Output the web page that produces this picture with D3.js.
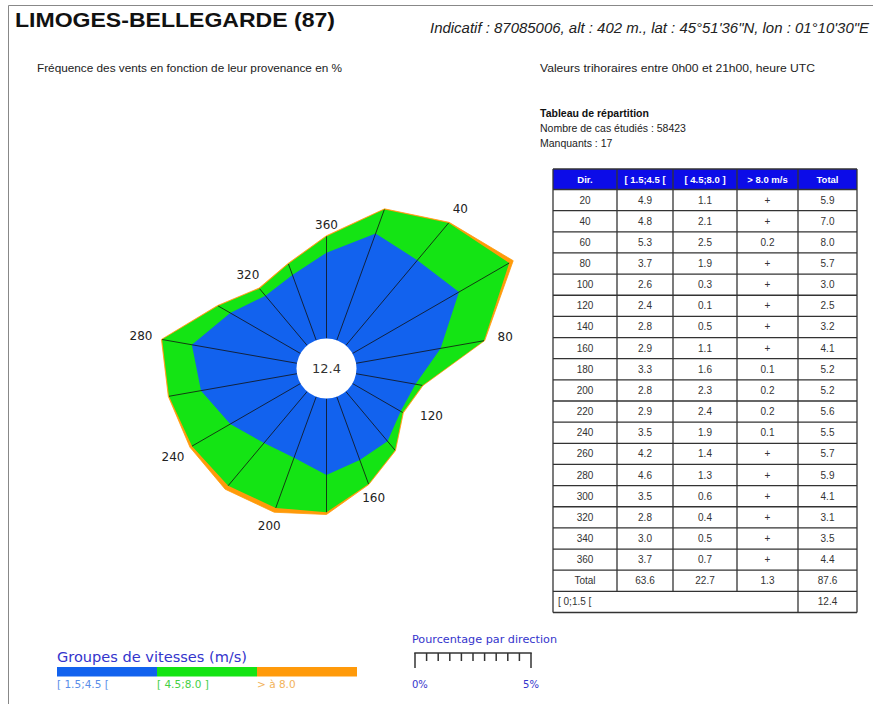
<!DOCTYPE html>
<html><head><meta charset="utf-8">
<script src="https://cdn.jsdelivr.net/npm/d3@7/dist/d3.min.js"></script>
<style>
html,body{margin:0;padding:0;background:#fff;}
svg{display:block;}
</style></head>
<body>
<script>
// ---- data ----
const directions = [20,40,60,80,100,120,140,160,180,200,220,240,260,280,300,320,340,360];
const speedLow  = [4.9,4.8,5.3,3.7,2.6,2.4,2.8,2.9,3.3,2.8,2.9,3.5,4.2,4.6,3.5,2.8,3.0,3.7];
const speedMid  = [1.1,2.1,2.5,1.9,0.3,0.1,0.5,1.1,1.6,2.3,2.4,1.9,1.4,1.3,0.6,0.4,0.5,0.7];
const speedHigh = ["+","+","0.2","+","+","+","+","+","0.1","0.2","0.2","0.1","+","+","+","+","+","+"];
const totals    = [5.9,7.0,8.0,5.7,3.0,2.5,3.2,4.1,5.2,5.2,5.6,5.5,5.7,5.9,4.1,3.1,3.5,4.4];
const plusValue = 0.03; // "+" = trace (< 0.05 %)
const headers = ["Dir.","[ 1.5;4.5 [","[ 4.5;8.0 ]","> 8.0 m/s","Total"];
const totalRow = ["Total","63.6","22.7","1.3","87.6"];
const calmLabel = "[ 0;1.5 [";
const calm = 12.4;
const labelDirs = [40,80,120,160,200,240,280,320,360];
const legendGroups = ["[ 1.5;4.5 [","[ 4.5;8.0 ]","> à 8.0"];
const scaleTicks = [0,0.5,1,1.5,2,2.5,3,3.5,4,4.5,5];

const BLUE = "#1262ee", GREEN = "#14e414", ORANGE = "#ff9a0a";

const W = 873, H = 704;
const svg = d3.select("body").append("svg").attr("width", W).attr("height", H);
const sans = "'Liberation Sans', Arial, sans-serif";
const deja = "'DejaVu Sans', Verdana, sans-serif";

// frame
svg.append("path").attr("d", `M8.5,${H} V5.5 H${W}`).attr("fill","none").attr("stroke","#888").attr("stroke-width",1);

// titles
svg.append("text").attr("x",15).attr("y",27).attr("font-family",sans).attr("font-weight","bold")
  .attr("font-size",20).attr("fill","#111").attr("textLength",320).attr("lengthAdjust","spacingAndGlyphs")
  .text("LIMOGES-BELLEGARDE (87)");
svg.append("text").attr("x",430).attr("y",33).attr("font-family",sans).attr("font-style","italic")
  .attr("font-size",14).attr("fill","#222").attr("textLength",439).attr("lengthAdjust","spacingAndGlyphs")
  .text("Indicatif : 87085006, alt : 402 m., lat : 45°51'36\"N, lon : 01°10'30\"E");
svg.append("text").attr("x",37).attr("y",72).attr("font-family",sans).attr("font-size",10)
  .attr("fill","#222").attr("textLength",305).attr("lengthAdjust","spacingAndGlyphs")
  .text("Fréquence des vents en fonction de leur provenance en %");
svg.append("text").attr("x",540).attr("y",72).attr("font-family",sans).attr("font-size",10)
  .attr("fill","#222").attr("textLength",275).attr("lengthAdjust","spacingAndGlyphs")
  .text("Valeurs trihoraires entre 0h00 et 21h00, heure UTC");
svg.append("text").attr("x",540).attr("y",117).attr("font-family",sans).attr("font-size",10.5)
  .attr("font-weight","bold").attr("fill","#111").text("Tableau de répartition");
svg.append("text").attr("x",540).attr("y",132).attr("font-family",sans).attr("font-size",10.5)
  .attr("fill","#222").text("Nombre de cas étudiés : 58423");
svg.append("text").attr("x",540).attr("y",147).attr("font-family",sans).attr("font-size",10.5)
  .attr("fill","#222").text("Manquants : 17");

// ---- rose ----
const cx = 326.5, cy = 368.5, r0 = 30;
const pct = d3.scaleLinear().domain([0,5]).range([0,116]);
const num = s => s === "+" ? plusValue : +s;
const rows = directions.map((d,i) => ({
  dir: d, a: d*Math.PI/180,
  c1: speedLow[i], c2: speedLow[i]+speedMid[i], c3: speedLow[i]+speedMid[i]+num(speedHigh[i]),
  total: totals[i]
}));
const rad = v => r0 + pct(v);
const g = svg.append("g").attr("transform",`translate(${cx},${cy})`);
const line = key => d3.lineRadial().angle(d => d.a).radius(d => rad(d[key])).curve(d3.curveLinearClosed);
g.append("path").attr("d", line("c3")(rows)).attr("fill",ORANGE).attr("stroke",ORANGE).attr("stroke-width",0.8);
g.append("path").attr("d", line("c2")(rows)).attr("fill",GREEN);
g.append("path").attr("d", line("c1")(rows)).attr("fill",BLUE);
g.selectAll("line.spoke").data(rows).join("line").attr("class","spoke")
  .attr("x1",d => r0*Math.sin(d.a)).attr("y1",d => -r0*Math.cos(d.a))
  .attr("x2",d => rad(d.c2)*Math.sin(d.a)).attr("y2",d => -rad(d.c2)*Math.cos(d.a))
  .attr("stroke","#111").attr("stroke-width",0.8);
g.append("circle").attr("r",r0).attr("fill","#fff");
g.append("text").attr("text-anchor","middle").attr("dy","0.36em").attr("font-family",deja)
  .attr("font-size",13).attr("fill","#333").text(calm.toFixed(1));
const labOff = d => 11 + 10*Math.abs(Math.sin(d.a)) + (d.dir === 120 ? 6 : 0);
g.selectAll("text.dl").data(rows.filter(d => labelDirs.includes(d.dir))).join("text").attr("class","dl")
  .attr("x",d => (rad(d.c3) + labOff(d))*Math.sin(d.a) + (d.dir === 120 ? 6 : 0))
  .attr("y",d => -(rad(d.c3) + labOff(d))*Math.cos(d.a) - (d.dir === 120 ? 10 : 0))
  .attr("dy","0.36em").attr("text-anchor","middle").attr("font-family",deja).attr("font-size",12)
  .attr("fill","#222").text(d => d.dir);

// ---- table ----
const colX = [553,617,673,737,798,857];
const headTop = 169, headH = 20.5, rowH = 21.15;
const tbl = svg.append("g").attr("font-family",sans).attr("font-size",10);
tbl.append("rect").attr("x",colX[0]).attr("y",headTop).attr("width",colX[5]-colX[0]).attr("height",headH).attr("fill","#0c0ce8");
headers.forEach((h,j) => {
  tbl.append("text").attr("x",(colX[j]+colX[j+1])/2).attr("y",headTop+headH/2).attr("dy","0.35em")
    .attr("text-anchor","middle").attr("fill","#fff").attr("font-weight","bold").attr("font-size",9.5).text(h);
});
const bodyRows = directions.map((d,i) => [String(d), speedLow[i].toFixed(1), speedMid[i].toFixed(1), speedHigh[i], totals[i].toFixed(1)]);
bodyRows.push(totalRow);
const top0 = headTop + headH;
bodyRows.forEach((r,i) => {
  r.forEach((v,j) => {
    tbl.append("text").attr("x",(colX[j]+colX[j+1])/2).attr("y",top0+i*rowH+rowH/2).attr("dy","0.35em")
      .attr("text-anchor","middle").attr("fill","#333").text(v);
  });
});
const lastTop = top0 + bodyRows.length*rowH, bottom = lastTop + rowH;
tbl.append("text").attr("x",colX[0]+5).attr("y",lastTop+rowH/2).attr("dy","0.35em").attr("fill","#333").text(calmLabel);
tbl.append("text").attr("x",(colX[4]+colX[5])/2).attr("y",lastTop+rowH/2).attr("dy","0.35em")
  .attr("text-anchor","middle").attr("fill","#333").text(calm.toFixed(1));
const ls = {stroke:"#333","stroke-width":1.3};
function ln(x1,y1,x2,y2){ const l = tbl.append("line").attr("x1",x1).attr("y1",y1).attr("x2",x2).attr("y2",y2); Object.entries(ls).forEach(([k,v])=>l.attr(k,v)); }
ln(colX[0],headTop,colX[5],headTop);
for (let i=0;i<=bodyRows.length+1;i++) ln(colX[0],top0+i*rowH,colX[5],top0+i*rowH);
colX.forEach((x,j) => {
  const full = (j===0 || j===4 || j===5);
  ln(x, headTop, x, full ? bottom : lastTop);
});

// ---- legend: speed groups ----
const lg = svg.append("g");
lg.append("text").attr("x",57).attr("y",662).attr("font-family",deja).attr("font-size",14)
  .attr("fill","#3434cc").attr("textLength",190).attr("lengthAdjust","spacingAndGlyphs").text("Groupes de vitesses (m/s)");
const lgColors = [BLUE, GREEN, ORANGE], lgText = ["#5a8ee8","#44d044","#f2b35a"];
legendGroups.forEach((t,i) => {
  lg.append("rect").attr("x",57+i*100).attr("y",667).attr("width",100).attr("height",9.5).attr("fill",lgColors[i]);
  lg.append("text").attr("x",57+i*100).attr("y",688).attr("font-family",deja).attr("font-size",10.5)
    .attr("fill",lgText[i]).text(t);
});

// ---- legend: percentage scale ----
const sx = 415;
svg.append("text").attr("x",412).attr("y",643).attr("font-family",deja).attr("font-size",10.5)
  .attr("fill","#3434cc").attr("textLength",145).attr("lengthAdjust","spacingAndGlyphs").text("Pourcentage par direction");
const sg = svg.append("g").attr("stroke","#333").attr("stroke-width",1.5);
sg.append("line").attr("x1",sx+pct(0)-0.75).attr("x2",sx+pct(5)+0.75).attr("y1",653).attr("y2",653);
sg.selectAll("line.t").data(scaleTicks).join("line").attr("class","t")
  .attr("x1",d => sx+pct(d)).attr("x2",d => sx+pct(d)).attr("y1",653)
  .attr("y2",(d,i) => (i===0 || i===scaleTicks.length-1) ? 668 : 661);
svg.append("text").attr("x",412).attr("y",688).attr("font-family",deja).attr("font-size",10)
  .attr("fill","#3434cc").text("0%");
svg.append("text").attr("x",sx+pct(5)).attr("y",688).attr("text-anchor","middle").attr("font-family",deja).attr("font-size",10)
  .attr("fill","#3434cc").text("5%");
</script>
</body></html>
